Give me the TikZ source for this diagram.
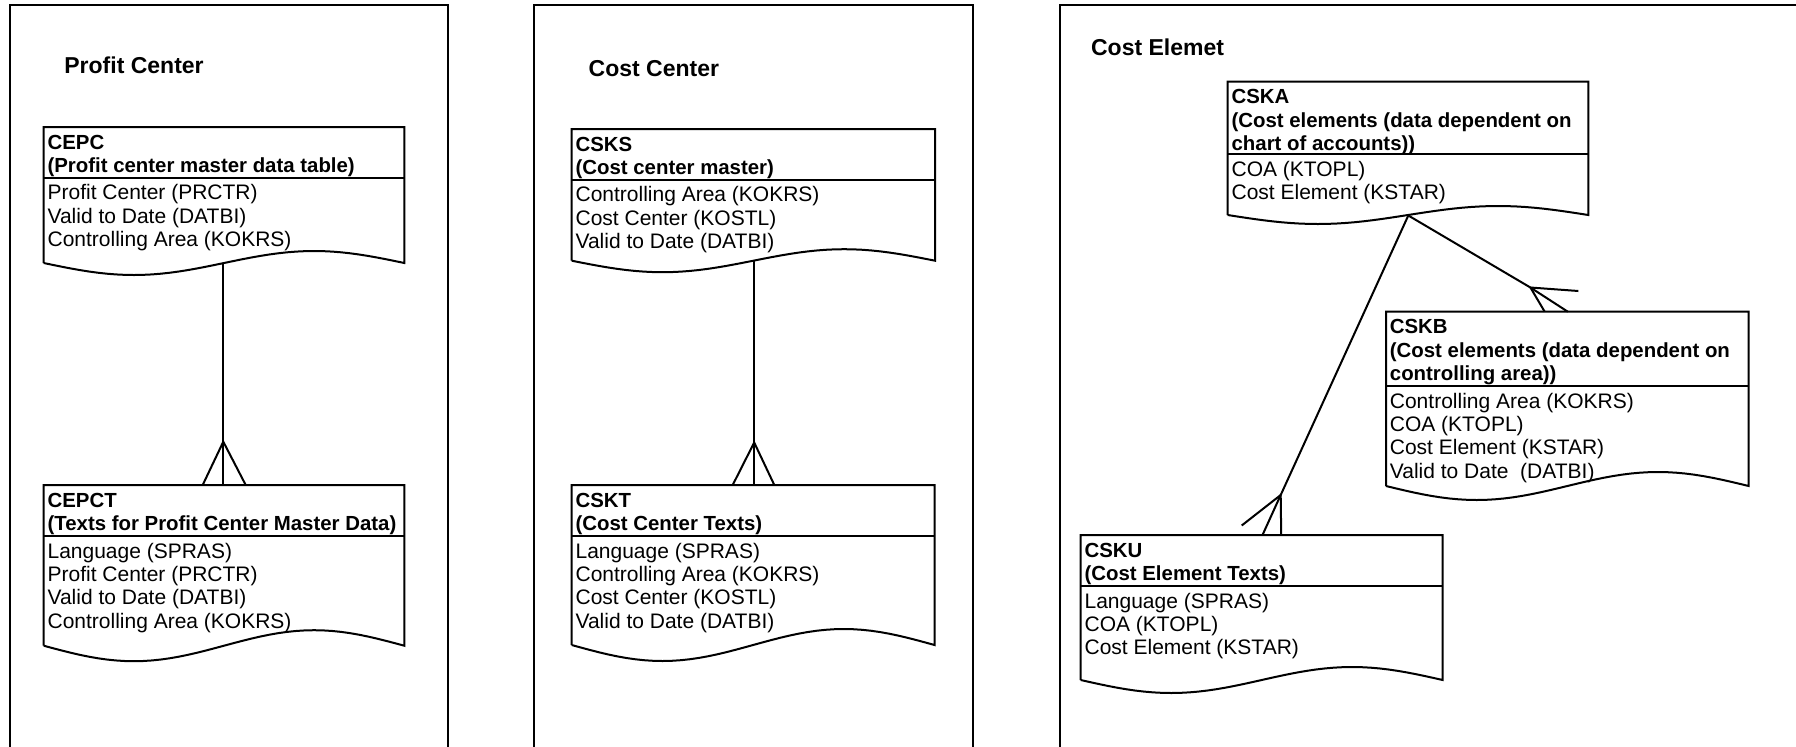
\documentclass[tikz,border=0pt]{standalone}
\usepackage{fontspec}
\setmainfont{Liberation Sans}
\tikzset{
  boxline/.style={line width=1pt, line join=miter},
  panel/.style={line width=1.2pt},
  conn/.style={line width=1pt},
  hdr/.style={font=\fontsize{10.2}{11.7}\selectfont\bfseries, inner sep=0pt, anchor=base west},
  bodytext/.style={font=\fontsize{10.5}{11.7}\selectfont, inner sep=0pt, anchor=base west},
  ptitle/.style={font=\fontsize{11.5}{13}\selectfont\bfseries, inner sep=0pt, anchor=base west},
}
% left-aligned lines, baseline at the first line
\newcommand\linestack[1]{\vtop{\halign{##\hfil\cr#1\crcr}}}
% #1 name, #2 left, #3 right, #4 top, #5 separator, #6 side bottom, #7 wave amplitude, #8 header, #9 body
\newcommand\entbox[9]{%
  \draw[boxline] (#2,#6) -- (#2,#4) -- (#3,#4) -- (#3,#6)
     -- plot[domain=1:0, samples=41, variable=\t] ({#2+\t*(#3-#2)}, {#6+#7*sin(360*\t)});
  \draw[boxline] (#2,#5) -- (#3,#5);
  \node[hdr] (#1-h) at (#2+3.5, #4+22) {\linestack{#8}};
  \node[bodytext] (#1-b) at (#2+3.5, #5+22) {\linestack{#9}};
}
\begin{document}
\begin{tikzpicture}[x=0.5pt, y=-0.5pt]
\useasboundingbox (0,0) rectangle (1796,746);

% panels
\draw[panel] (10,750) -- (10,5) -- (448,5) -- (448,750);
\draw[panel] (534,750) -- (534,5) -- (972.7,5) -- (972.7,750);
\draw[panel] (1060,750) -- (1060,5) -- (1800,5);

% panel titles
\node[ptitle] (t1) at (64,73) {Profit Center};
\node[ptitle] (t2) at (588.3,76.7) {Cost Center};
\node[ptitle] (t3) at (1090.7,55) {Cost Elemet};

% entities
\entbox{cepc}{43.7}{404.3}{127}{177.7}{263}{12}
  {CEPC\cr (Profit center master data table)}
  {Profit Center (PRCTR)\cr Valid to Date (DATBI)\cr Controlling Area (KOKRS)}
\entbox{cepct}{43.7}{404.3}{485}{536}{645.7}{15.5}
  {CEPCT\cr (Texts for Profit Center Master Data)}
  {Language (SPRAS)\cr Profit Center (PRCTR)\cr Valid to Date (DATBI)\cr Controlling Area (KOKRS)}
\entbox{csks}{571.7}{935}{129}{179.6}{260.7}{11.5}
  {CSKS\cr (Cost center master)}
  {Controlling Area (KOKRS)\cr Cost Center (KOSTL)\cr Valid to Date (DATBI)}
\entbox{cskt}{571.7}{934.5}{485}{536}{645}{16}
  {CSKT\cr (Cost Center Texts)}
  {Language (SPRAS)\cr Controlling Area (KOKRS)\cr Cost Center (KOSTL)\cr Valid to Date (DATBI)}
\entbox{cska}{1227.7}{1588.3}{81.7}{154}{215}{9}
  {CSKA\cr (Cost elements (data dependent on\cr chart of accounts))}
  {COA (KTOPL)\cr Cost Element (KSTAR)}
\entbox{cskb}{1386}{1748.7}{311.7}{386}{486}{14}
  {CSKB\cr (Cost elements (data dependent on\cr controlling area))}
  {Controlling Area (KOKRS)\cr COA (KTOPL)\cr Cost Element (KSTAR)\cr Valid to Date\ \ (DATBI)}
\entbox{csku}{1080.7}{1442.7}{535}{586}{680}{13}
  {CSKU\cr (Cost Element Texts)}
  {Language (SPRAS)\cr COA (KTOPL)\cr Cost Element (KSTAR)}

% connection points
\coordinate (cepc-s) at (223.3,263);
\coordinate (cepct-t) at (223.3,485);
\coordinate (r1-a) at (223.3,441.7);
\coordinate (r1-l) at (202.7,485);
\coordinate (r1-r) at (245.7,485);

\coordinate (csks-s) at (754.2,260.7);
\coordinate (cskt-t) at (754.2,485);
\coordinate (r2-a) at (754.2,442.5);
\coordinate (r2-l) at (732.7,485);
\coordinate (r2-r) at (774.3,485);

\coordinate (cska-s) at (1408.3,215.5);
\coordinate (cskb-t) at (1567.8,311.7);
\coordinate (r3-a) at (1530.4,287.5);
\coordinate (r3-l) at (1578.4,291);
\coordinate (r3-r) at (1544.7,311.7);

\coordinate (csku-t) at (1262.5,535);
\coordinate (r4-a) at (1280.7,495);
\coordinate (r4-l) at (1241.7,525.5);
\coordinate (r4-r) at (1281.2,535);

% connectors
\draw[conn] (cepc-s) -- (cepct-t);
\draw[conn] (r1-l) -- (r1-a) -- (r1-r);
\draw[conn] (csks-s) -- (cskt-t);
\draw[conn] (r2-l) -- (r2-a) -- (r2-r);
\draw[conn] (cska-s) -- (r3-a) -- (cskb-t);
\draw[conn] (r3-l) -- (r3-a) -- (r3-r);
\draw[conn] (cska-s) -- (r4-a) -- (csku-t);
\draw[conn] (r4-l) -- (r4-a) -- (r4-r);
\end{tikzpicture}
\end{document}
